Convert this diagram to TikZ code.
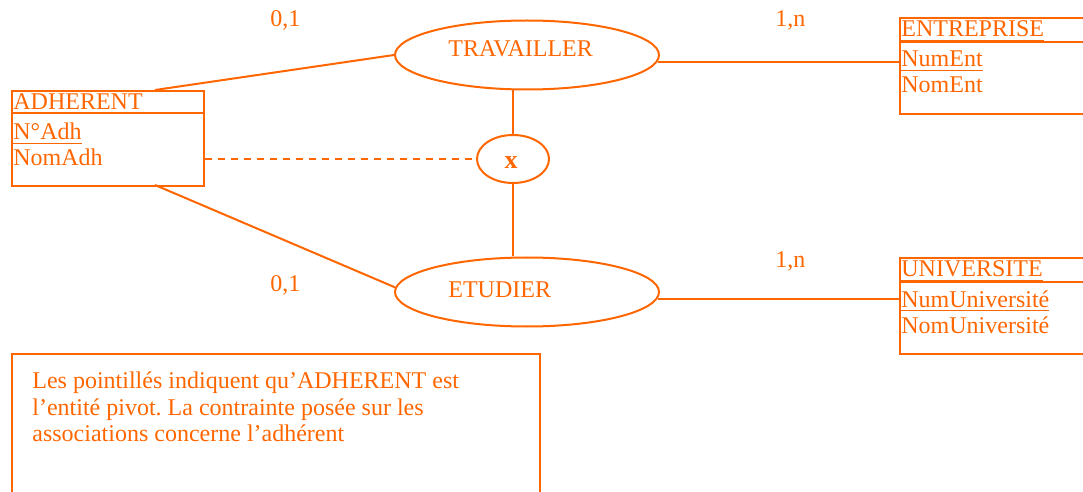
\documentclass[tikz,border=0pt]{standalone}
\usepackage{fontspec}
\setmainfont{Liberation Serif}
\usetikzlibrary{shapes.geometric}
\definecolor{mcd}{HTML}{FF6600}
\frenchspacing
\begin{document}
\begin{tikzpicture}[x=0.5pt,y=-0.5pt,
  every node/.style={text=mcd, font=\fontsize{12}{14}\selectfont, inner sep=0pt},
  txt/.style={anchor=base west},
  entitybox/.style={draw=mcd, line width=1pt, anchor=north west},
  assoc/.style={draw=mcd, line width=1pt, ellipse, inner sep=0pt},
  link/.style={draw=mcd, line width=1pt},
  pivot/.style={link, dash pattern=on 3.5pt off 3pt}]
\useasboundingbox (0,0) rectangle (1083,492);

% entities
\node[entitybox, minimum width=96pt, minimum height=47.5pt] (adh) at (11,90) {};
\node[entitybox, minimum width=100.5pt, minimum height=48pt] (ent) at (899,17) {};
\node[entitybox, minimum width=100.5pt, minimum height=48pt] (uni) at (899,257) {};
\draw[link] ([yshift=-11.5pt]adh.north west) -- ([yshift=-11.5pt]adh.north east);
\draw[link] ([yshift=-12.5pt]ent.north west) -- ([yshift=-12.5pt]ent.north east);
\draw[link] ([yshift=-12.5pt]uni.north west) -- ([yshift=-12.5pt]uni.north east);

\node[txt] (adhT) at (13,110) {\underline{ADHERENT}};
\node[txt] (adhK) at (13,140) {\underline{N°Adh}};
\node[txt] (adhA) at (13,166) {NomAdh};
\node[txt] (entT) at (901,37) {\underline{ENTREPRISE}};
\node[txt] (entK) at (901,67) {\underline{NumEnt}};
\node[txt] (entA) at (901,93) {NomEnt};
\node[txt] (uniT) at (901,277) {\underline{UNIVERSITE}};
\node[txt] (uniK) at (901,307) {\underline{NumUniversité}};
\node[txt] (uniA) at (901,333) {NomUniversité};

% associations
\node[assoc, minimum width=132pt, minimum height=34.5pt] (trav) at (527,55) {};
\node[assoc, minimum width=132pt, minimum height=34.5pt] (etu) at (527,292) {};
\node[assoc, minimum width=36pt, minimum height=24pt] (xc) at (513,159) {};
\node[txt] (travL) at (448,57) {TRAVAILLER};
\node[txt] (etuL) at (448,298) {ETUDIER};
\node[anchor=base, font=\fontsize{13}{15}\selectfont\bfseries] (xL) at (511,169) {x};

% links
\coordinate (adhTop) at (155,90);
\coordinate (adhBot) at (155,185);
\draw[link] (adhTop) -- (trav.west);
\draw[link] (adhBot) -- (etu.178);
\draw[link] (trav.-3) -- (trav.-3 -| ent.west);
\draw[link] (etu.-3) -- (etu.-3 -| uni.west);
\draw[link] (xc.north) -- (xc.north |- trav.south);
\draw[link] (xc.south) -- (xc.south |- etu.north);
\draw[pivot] (adh.east |- xc.west) -- (xc.west);

% cardinalities
\node[txt] (c1) at (270,27) {0,1};
\node[txt] (c2) at (775,27) {1,n};
\node[txt] (c3) at (270,292) {0,1};
\node[txt] (c4) at (775,268) {1,n};

% note
\node[entitybox, minimum width=264pt, minimum height=75pt] (note) at (11,353) {};
\node[txt] (n1) at (32,388) {Les pointillés indiquent qu’ADHERENT est};
\node[txt] (n2) at (32,415) {l’entité pivot. La contrainte posée sur les};
\node[txt] (n3) at (32,441) {associations concerne l’adhérent};
\end{tikzpicture}
\end{document}
